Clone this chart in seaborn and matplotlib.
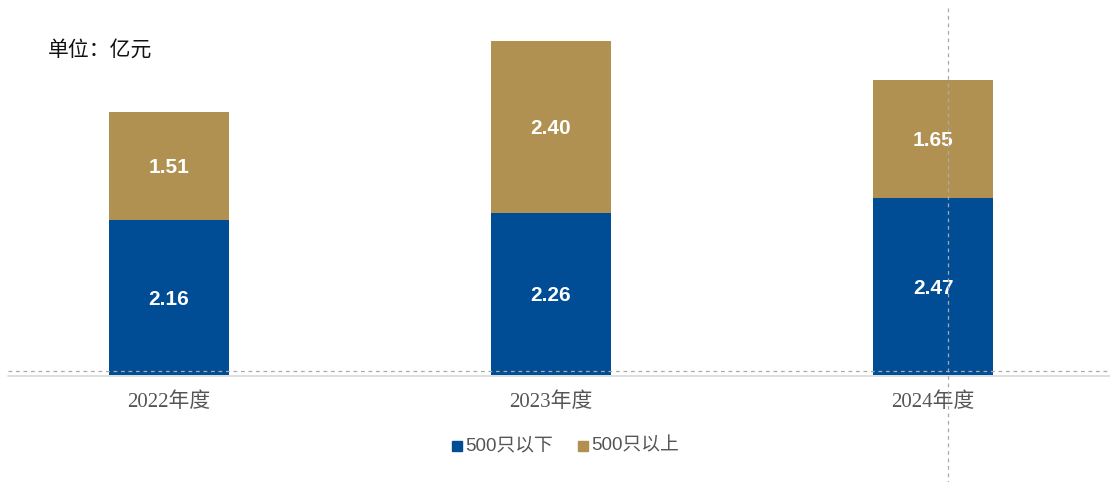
import matplotlib
matplotlib.use("Agg")
import matplotlib.pyplot as plt
import seaborn as sns
import numpy as np
import pandas as pd
from matplotlib.lines import Line2D
from matplotlib.patches import Rectangle

categories = ["2022年度", "2023年度", "2024年度"]
below_500 = [2.16, 2.26, 2.47]
above_500 = [1.51, 2.40, 1.65]
series_names = ["500只以下", "500只以上"]
unit_label = "单位：亿元"

BLUE = "#004D96"
GOLD = "#B09152"

sns.set_theme(style="white")
plt.rcParams['font.family'] = ['Noto Sans CJK SC', 'DejaVu Sans']

W, H = 1110, 482
fig = plt.figure(figsize=(W / 100, H / 100), dpi=100)

# axes geometry in pixels
ax_left, ax_right = 8, 1110
ax_top, ax_bottom = 20, 375
ax = fig.add_axes([ax_left / W, 1 - ax_bottom / H, (ax_right - ax_left) / W, (ax_bottom - ax_top) / H])

df = pd.DataFrame({"cat": categories, "below": below_500, "above": above_500})
sns.barplot(data=df, x="cat", y="below", color=BLUE, width=0.314, ax=ax,
            saturation=1, edgecolor="none", linewidth=0)
sns.barplot(data=df, x="cat", y="above", color=GOLD, width=0.314, ax=ax,
            saturation=1, edgecolor="none", linewidth=0, bottom=np.array(below_500))

spacing = 382.0
x0 = -(169 - ax_left) / spacing
x1 = x0 + (ax_right - ax_left) / spacing
ax.set_xlim(x0, x1)
ax.set_ylim(0, (ax_bottom - ax_top) / 71.7)
ax.set_xlabel("")
ax.set_ylabel("")
ax.set_yticks([])
ax.set_xticks([])
for s in ax.spines.values():
    s.set_visible(False)

# value labels
for i, (b, a) in enumerate(zip(below_500, above_500)):
    ax.text(i, b / 2 - 2 / 71.7, f"{b:.2f}", ha="center", va="center", color="white",
            fontsize=15, fontweight="bold", family=["Liberation Sans", "DejaVu Sans"])
    ax.text(i, b + a / 2 - 2 / 71.7, f"{a:.2f}", ha="center", va="center", color="white",
            fontsize=15, fontweight="bold", family=["Liberation Sans", "DejaVu Sans"])

# category labels
for i, c in enumerate(categories):
    ax.text(i, -27 / 71.7, c, ha="center", va="center", color="#555555",
            fontsize=15, family=["Liberation Serif", "Noto Sans CJK SC"])

# baseline lines
fig.add_artist(Line2D([ax_left / W, 1], [1 - 376 / H, 1 - 376 / H], color="#D9D9D9", lw=1.2))
fig.add_artist(Line2D([ax_left / W, 1], [1 - 371 / H, 1 - 371 / H], color="#AAAAAA", lw=0.9,
                      linestyle=(0, (3, 3))))
# vertical dashed crosshair
fig.add_artist(Line2D([948 / W, 948 / W], [1 - 8 / H, 0], color="#AAAAAA", lw=0.9,
                      linestyle=(0, (3, 3))))

# unit label
fig.text(48 / W, 1 - 50 / H, unit_label, ha="left", va="center", fontsize=15, color="#111111")

# legend
ly = 1 - 446 / H
fig.add_artist(Rectangle((452 / W, ly - 5 / H), 10 / W, 10 / H, color=BLUE, transform=fig.transFigure))
fig.text(465 / W, ly, series_names[0], ha="left", va="center", fontsize=13.5, color="#555555",
         family=["Liberation Sans", "Noto Sans CJK SC"])
fig.add_artist(Rectangle((578 / W, ly - 5 / H), 10 / W, 10 / H, color=GOLD, transform=fig.transFigure))
fig.text(591 / W, ly, series_names[1], ha="left", va="center", fontsize=13.5, color="#555555",
         family=["Liberation Sans", "Noto Sans CJK SC"])

fig.savefig("out.png", dpi=100)
